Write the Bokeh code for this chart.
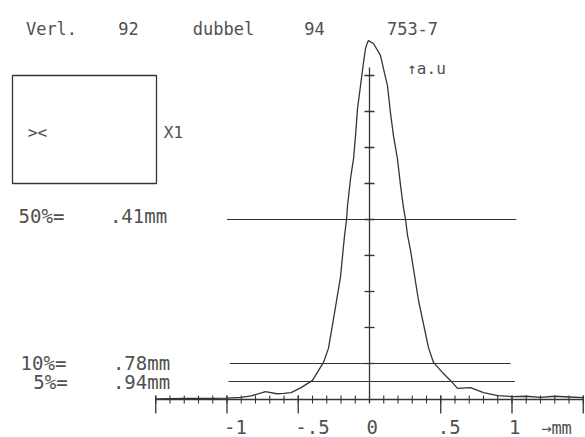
import numpy as np
from bokeh.plotting import figure
from bokeh.models import Range1d
from bokeh.core.properties import value
from bokeh.embed import file_html
from bokeh.resources import INLINE

# ---------------- data ----------------
# line spread function, x in mm, y in % of peak
lsf_x = [-1.5, -1.3, -1.1, -1.0, -0.9, -0.83, -0.73, -0.65, -0.6, -0.55, -0.48,
         -0.40, -0.323, -0.288, -0.239, -0.204, -0.175, -0.161, -0.154, -0.133,
         -0.112, -0.098, -0.084, -0.063, -0.042, -0.028, -0.014, -0.007,
         0.028, 0.077, 0.098, 0.126, 0.147, 0.168, 0.196, 0.218, 0.239, 0.253,
         0.267, 0.288, 0.344, 0.414, 0.449, 0.519, 0.568, 0.618, 0.709, 0.80,
         0.90, 1.0, 1.1, 1.2, 1.3, 1.4, 1.5]
lsf_y = [0.2, 0.3, 0.3, 0.4, 0.6, 1.0, 2.2, 1.6, 1.7, 1.9, 3.3,
         5.3, 10.3, 14.2, 25.6, 33.9, 45.6, 50.0, 53.9, 61.4,
         66.9, 73.3, 80.8, 87.2, 93.6, 97.5, 99.2, 99.7,
         98.9, 95.6, 91.9, 87.2, 79.7, 73.3, 66.9, 59.4, 53.1, 50.0,
         45.6, 41.4, 27.5, 14.4, 10.3, 7.2, 5.3, 3.1, 3.3, 1.9,
         1.1, 0.8, 0.9, 0.6, 0.9, 0.7, 0.5]

levels = [50, 10, 5]
level_names = ["50%=", "10%=", "5%="]
level_widths = [".41mm", ".78mm", ".94mm"]

tick_vals = [-1, -0.5, 0, 0.5, 1]
tick_labels = ["-1", "-.5", "0", ".5", "1"]
major_ticks = [-1.5, -1, -0.5, 0.5, 1, 1.5]

title_words = ["Verl.", "92", "dubbel", "94", "753-7"]

# ---------------- layout helpers (page pixel -> data) ----------------
W, H = 585, 437

def X(px):
    return (px - 369) / 142.5

def Y(py):
    return (399 - py) / 3.6

INK = "#353535"
TXT = "#505050"
FONT = value("DejaVu Sans Mono")

p = figure(width=W, height=H,
           x_range=Range1d(X(0), X(W)), y_range=Range1d(Y(H), Y(0)),
           output_backend="svg", toolbar_location=None,
           x_axis_type=None, y_axis_type=None, min_border=0)
p.outline_line_color = None
p.background_fill_color = "white"
p.border_fill_color = "white"

# level lines
lv_x0 = [-1.0, -0.98, -0.99]
lv_x1 = [1.03, 0.99, 1.02]
p.segment(x0=lv_x0, y0=levels, x1=lv_x1, y1=levels, line_color=INK, line_width=1.1)

# x axis with ticks
ax_min, ax_max = -1.5, 1.5
p.segment(x0=[ax_min], y0=[0], x1=[ax_max], y1=[0], line_color=INK, line_width=1.3)
minor = np.round(np.arange(ax_min, ax_max + 0.001, 0.1), 2)
th = 4 / 3.6
p.segment(x0=minor, y0=-th, x1=minor, y1=th, line_color=INK, line_width=1.1)
p.segment(x0=major_ticks, y0=th, x1=major_ticks, y1=-14 / 3.6, line_color=INK, line_width=1.3)

# y axis with ticks
ytop = Y(67)
p.segment(x0=[0], y0=[-1.0], x1=[0], y1=[ytop], line_color=INK, line_width=1.3)
yt = np.arange(10, 91, 10)
tw = 5 / 142.5
p.segment(x0=-tw, y0=yt, x1=tw, y1=yt, line_color=INK, line_width=1.3)

# curve
p.line(lsf_x, lsf_y, line_color=INK, line_width=1.3)

# box (viewer window)
p.quad(left=[X(12)], right=[X(156)], top=[Y(75)], bottom=[Y(183)],
       fill_color=None, line_color=INK, line_width=1.3)

def txt(xs, ys, texts, size="19px", align="center"):
    p.text(x=xs, y=ys, text=texts, text_font=FONT, text_font_size=size,
           text_align=align, text_baseline="middle", text_color=TXT)

# title
title_cx = [51, 128, 223, 314, 412]
txt([X(c) for c in title_cx], [Y(28)] * len(title_words), title_words, size="17px")

# box texts
txt([X(37), X(173)], [Y(132), Y(132)], ["><", "X1"], size="16px")

# y unit
txt([X(426)], [Y(68)], ["\u2191a.u"], size="16px")

# level labels
txt([X(41), X(43), X(50)], [Y(215), Y(362), Y(381)], level_names)
txt([X(138), X(141), X(141)], [Y(215), Y(362), Y(381)], level_widths)

# x tick labels
p.text(x=tick_vals, y=[Y(426)] * len(tick_vals), text=tick_labels, text_font=FONT,
       text_font_size="19px", text_align="left", text_baseline="middle",
       text_color=TXT, x_offset=-3)
txt([X(556)], [Y(427)], ["\u2192mm"], size="17px")

open("out.html", "w").write(file_html(p, INLINE))
